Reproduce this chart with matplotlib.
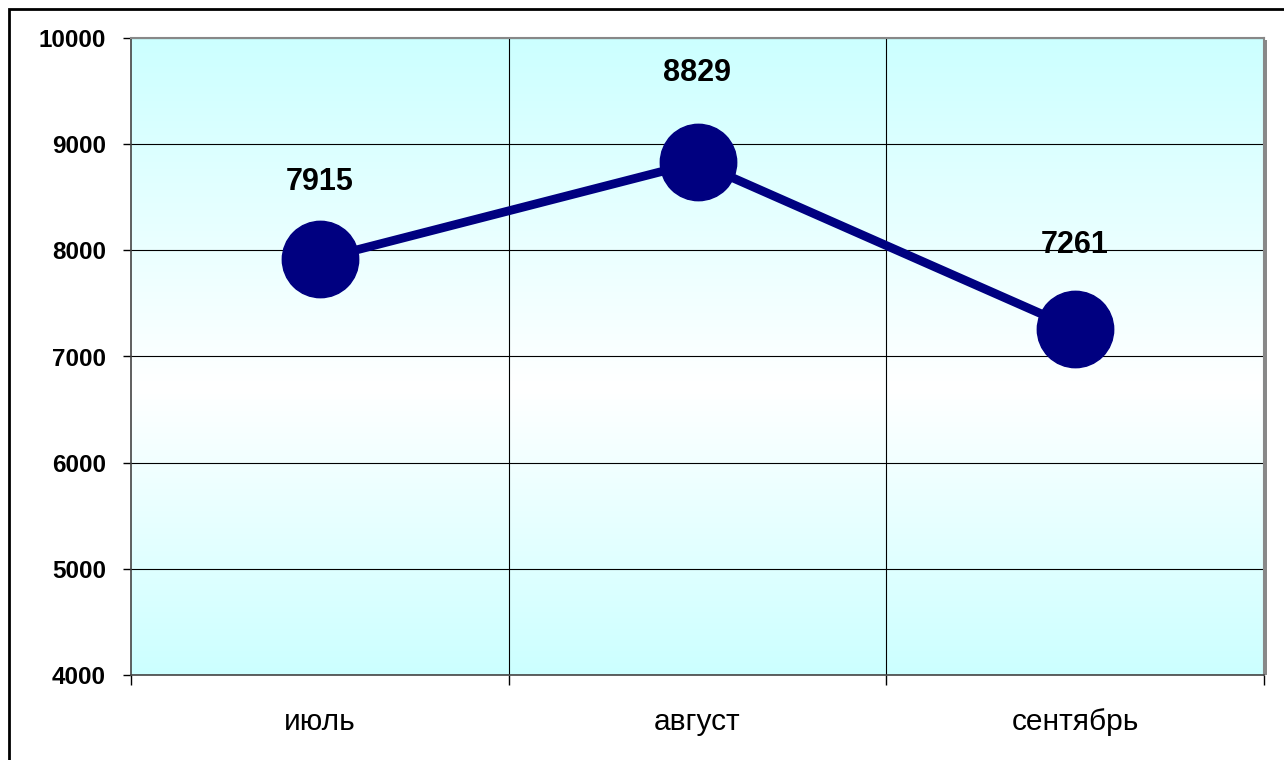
import matplotlib
matplotlib.use("Agg")
import matplotlib.pyplot as plt
import numpy as np
from matplotlib.colors import LinearSegmentedColormap
from matplotlib.patches import Rectangle

categories = ["июль", "август", "сентябрь"]
values = [7915, 8829, 7261]
yticks = [4000, 5000, 6000, 7000, 8000, 9000, 10000]

plt.rcParams['font.family'] = ['Liberation Sans', 'DejaVu Sans']

W, H = 1284, 760
fig = plt.figure(figsize=(W/100, H/100), dpi=100)
fig.patch.set_facecolor('white')

# outer border (right/bottom clipped)
fig.add_artist(Rectangle((9/W, -0.1), 1.2, (H-9)/H + 0.1, transform=fig.transFigure,
                         fill=False, edgecolor='black', linewidth=2))

l, r, t, b = 131, 1264, 38, 675
ax = fig.add_axes([l/W, 1-b/H, (r-l)/W, (b-t)/H])

# shadow on right
fig.add_artist(Rectangle((r/W, (H-b)/H), 3/W, (b-t-2)/H, transform=fig.transFigure,
                         facecolor='#888888', edgecolor='none', zorder=0))

x = np.arange(len(categories)) + 0.5
ax.set_xlim(0, 3)
ax.set_ylim(4000, 10000)

cmap = LinearSegmentedColormap.from_list('g', [(0, '#CCFFFF'), (0.55, '#FFFFFF'), (1, '#CCFFFF')])
grad = np.linspace(0, 1, 256).reshape(-1, 1)
ax.imshow(grad, extent=[0, 3, 4000, 10000], aspect='auto', cmap=cmap, zorder=0, origin='upper')

for yv in yticks:
    ax.axhline(yv, color='black', linewidth=0.8, zorder=1)
for xv in [1, 2]:
    ax.axvline(xv, color='black', linewidth=0.8, zorder=1)

ax.plot(x, values, color='#000080', linewidth=6.3, marker='o', markersize=55,
        markerfacecolor='#000080', markeredgecolor='#000080', zorder=3, clip_on=False)

label_offsets = [56, 64, 60]
for xi, v, off in zip(x, values, label_offsets):
    ax.annotate(str(v), (xi, v), xytext=(0, off), textcoords='offset points',
                ha='center', va='center', fontsize=22, fontweight='bold', color='black')

ax.set_yticks(yticks)
ax.set_yticklabels([str(v) for v in yticks], fontsize=17.5, fontweight='bold')
ax.set_xticks([0, 1, 2, 3])
ax.set_xticklabels([])
ax.set_xticks(x, minor=True)
ax.set_xticklabels(categories, minor=True, fontsize=21.5)
ax.tick_params(axis='x', which='minor', length=0, pad=24)
ax.tick_params(axis='x', which='major', length=7, width=1, direction='out')
ax.tick_params(axis='y', length=6, width=1, direction='out', pad=12)

for s in ['top', 'right']:
    ax.spines[s].set_color('#888888')
    ax.spines[s].set_linewidth(1.5)
for s in ['left', 'bottom']:
    ax.spines[s].set_color('#444444')
    ax.spines[s].set_linewidth(1.2)

fig.savefig('out.png', dpi=100)
